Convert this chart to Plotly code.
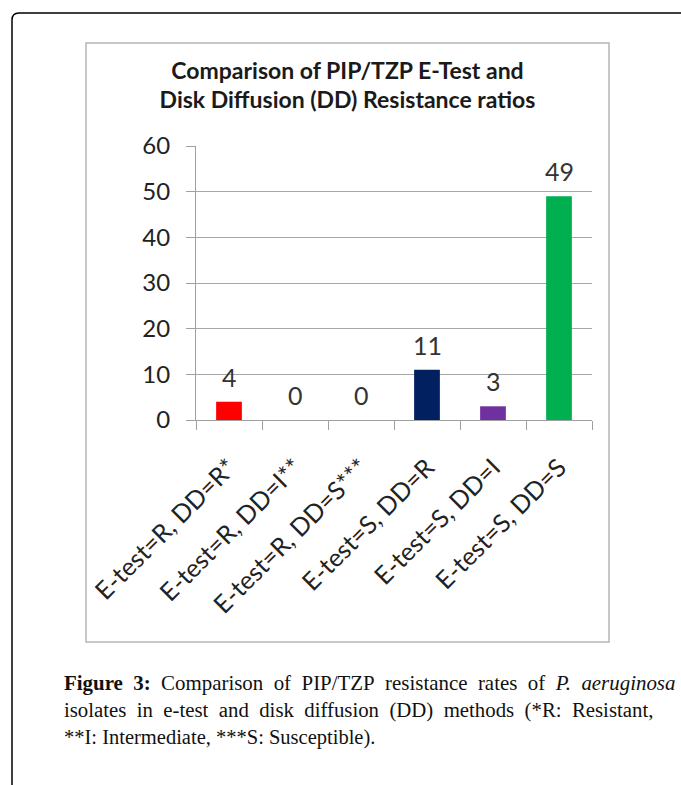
import plotly.graph_objects as go

categories = ["E-test=R, DD=R*", "E-test=R, DD=I**", "E-test=R, DD=S***",
              "E-test=S, DD=R", "E-test=S, DD=I", "E-test=S, DD=S"]
values = [4, 0, 0, 11, 3, 49]
bar_colors = ["#FF0000", "#FFFFFF", "#FFFFFF", "#002060", "#7030A0", "#00B050"]
y_ticks = [0, 10, 20, 30, 40, 50, 60]

W, H = 681, 785
L, R, T, B = 196, 592, 146, 420  # plot area in px


def px(x):
    return (x - L) / (R - L)


def py(y):
    return (B - y) / (B - T)


fig = go.Figure()
fig.add_trace(go.Bar(
    x=categories, y=values, width=0.39,
    marker=dict(color=bar_colors, line=dict(width=0)),
    hoverinfo="skip",
))

annotations = []
for c, v in zip(categories, values):
    annotations.append(dict(x=c, y=v, xref="x", yref="y", text=str(v),
                            showarrow=False, yanchor="bottom", yshift=8,
                            font=dict(family="Lato", size=25, color="#333333")))

# caption (justified lines emulated with extra spaces)
S2 = "&nbsp; "
line1 = S2.join(["<b>Figure</b>", "<b>3:</b>", "Comparison", "of", "PIP/TZP",
                 "resistance", "rates", "of", "<i>P.</i>", "<i>aeruginosa</i>"])
line2 = S2.join(["isolates", "in", "e-test", "and", "disk", "diffusion", "(DD)",
                 "methods", "(*R:", "Resistant,"])
cap_lines = [line1, line2, "**I: Intermediate, ***S: Susceptible)."]
cap_sizes = [20.9, 20.8, 20.5]
cap_y = [683, 710, 737]
for t, s, yy in zip(cap_lines, cap_sizes, cap_y):
    annotations.append(dict(x=px(62), y=py(yy), xref="paper", yref="paper",
                            text=t, showarrow=False, xanchor="left", yanchor="middle",
                            align="left",
                            font=dict(family="Liberation Serif", size=s, color="#111111")))

shapes = [
    # inner chart box
    dict(type="rect", xref="paper", yref="paper",
         x0=px(86), x1=px(609), y0=py(642), y1=py(43),
         line=dict(color="#B5B5B5", width=1.5), layer="below"),
    # outer frame (rounded top-left corner)
    dict(type="path", xref="paper", yref="paper",
         path=(f"M {px(12)} {py(800)} L {px(12)} {py(20)} "
               f"Q {px(12)} {py(13)} {px(19)} {py(13)} L {px(700)} {py(13)}"),
         line=dict(color="#000000", width=1.5)),
]

fig.update_layout(
    width=W, height=H,
    margin=dict(l=L, r=W - R, t=T, b=H - B, pad=0),
    paper_bgcolor="white", plot_bgcolor="white",
    showlegend=False,
    title=dict(text="Comparison of PIP/TZP E-Test and<br>Disk Diffusion (DD) Resistance ratios",
               x=347.5 / W, xanchor="center", xref="container",
               y=1 - 78.5 / H, yanchor="middle", yref="container",
               font=dict(family="Lato", size=23, color="#1a1a1a", weight="bold")),
    xaxis=dict(type="category", showgrid=False, showline=True, linecolor="#A0A0A0",
               linewidth=1, ticks="outside", tickson="boundaries", ticklen=9,
               tickcolor="#A0A0A0", tickangle=-45, ticklabelstandoff=22,
               tickfont=dict(family="Lato", size=25, color="#222222")),
    yaxis=dict(range=[0, 60], tickvals=y_ticks, showgrid=True, gridcolor="#A8A8A8",
               gridwidth=1, showline=True, linecolor="#A0A0A0", linewidth=1,
               ticks="outside", ticklen=9, tickcolor="#A0A0A0", zeroline=False,
               ticklabelstandoff=11,
               tickfont=dict(family="Lato", size=24, color="#222222")),
    annotations=annotations, shapes=shapes,
)

fig.write_html("out.html", config={"displayModeBar": False},
               post_script="document.body.style.margin='0';")
